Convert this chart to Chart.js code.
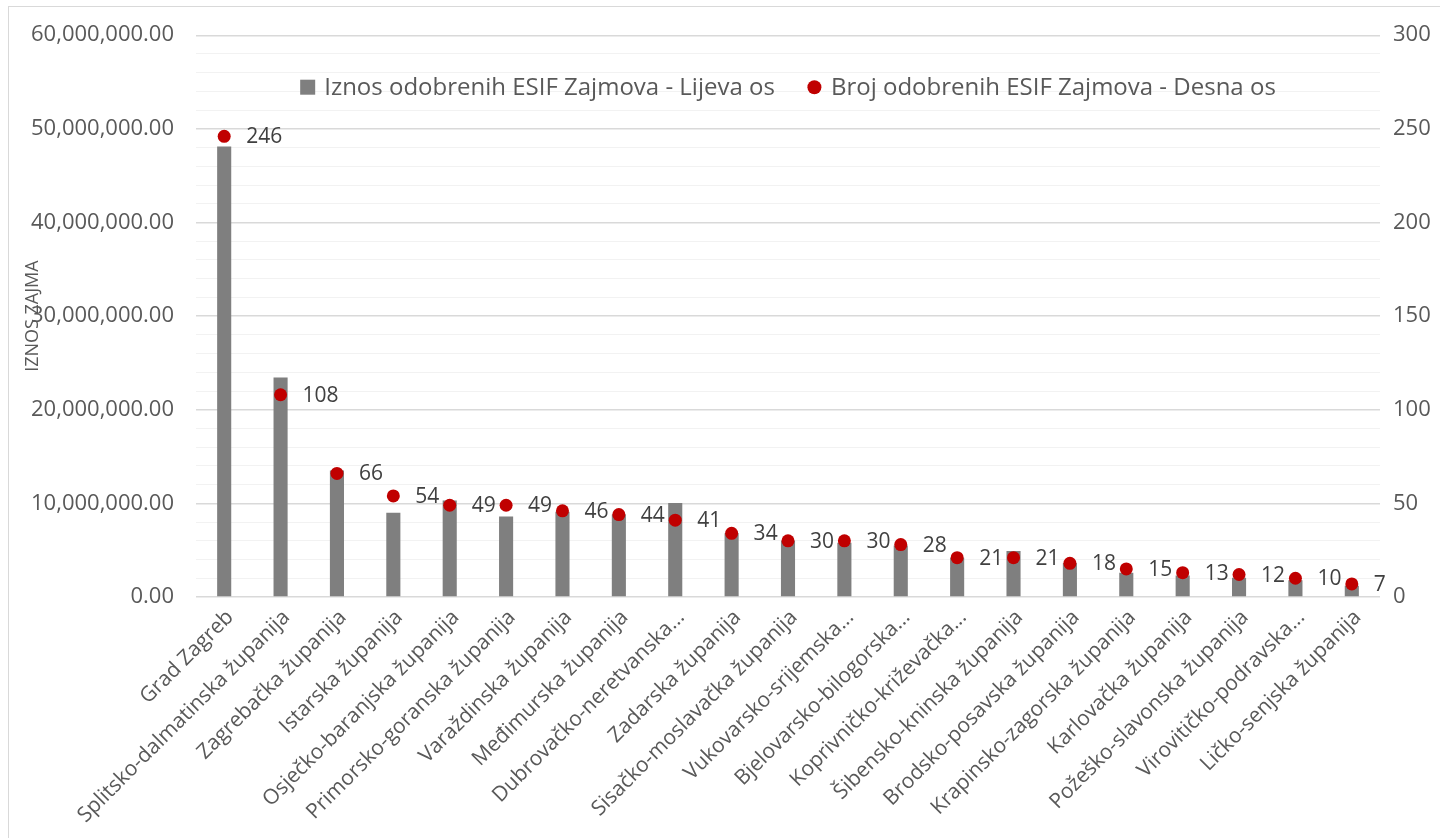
<!DOCTYPE html>
<html lang="hr">
<head>
  <meta charset="UTF-8" />
  <title>ESIF zajmovi po županijama</title>
  <script src="https://cdn.jsdelivr.net/npm/chart.js"></script>
  <style>
    html, body {
      margin: 0;
      padding: 0;
      background: #fff;
      overflow: hidden;
    }
    .wrap {
      position: relative;
      width: 1440px;
      height: 838px;
    }
    /* light frame around the chart, only left/top edges are visible */
    .frame {
      position: absolute;
      left: 8px;
      top: 6px;
      width: 1440px;
      height: 840px;
      border: 1px solid #d9d9d9;
      pointer-events: none;
    }
  </style>
</head>
<body>
  <div class="wrap">
    <canvas id="esifChart"></canvas>
    <div class="frame"></div>
  </div>

  <script>
    const categories = [
      "Grad Zagreb",
      "Splitsko-dalmatinska županija",
      "Zagrebačka županija",
      "Istarska županija",
      "Osječko-baranjska županija",
      "Primorsko-goranska županija",
      "Varaždinska županija",
      "Međimurska županija",
      "Dubrovačko-neretvanska...",
      "Zadarska županija",
      "Sisačko-moslavačka županija",
      "Vukovarsko-srijemska...",
      "Bjelovarsko-bilogorska...",
      "Koprivničko-križevačka...",
      "Šibensko-kninska županija",
      "Brodsko-posavska županija",
      "Krapinsko-zagorska županija",
      "Karlovačka županija",
      "Požeško-slavonska županija",
      "Virovitičko-podravska...",
      "Ličko-senjska županija"
    ];

    // Iznos odobrenih ESIF zajmova (lijeva os)
    const iznosZajmova = [
      48100000, 23450000, 13500000, 9000000, 10300000, 8600000, 9100000,
      8800000, 10050000, 6800000, 6000000, 5800000, 5500000, 4200000,
      4900000, 3600000, 2600000, 2300000, 2050000, 1800000, 1200000
    ];

    // Broj odobrenih ESIF zajmova (desna os)
    const brojZajmova = [
      246, 108, 66, 54, 49, 49, 46, 44, 41, 34, 30,
      30, 28, 21, 21, 18, 15, 13, 12, 10, 7
    ];

    const legendLabels = [
      "Iznos odobrenih ESIF Zajmova - Lijeva os",
      "Broj odobrenih ESIF Zajmova - Desna os"
    ];

    const leftTicksMax = 60000000;
    const rightTicksMax = 300;

    const FONT = "'Open Sans', 'Noto Sans', sans-serif";
    const BAR_COLOR = "#7f7f7f";
    const DOT_COLOR = "#c00000";
    const TEXT_COLOR = "#595959";

    // value labels to the right of each red dot
    const dotLabels = {
      id: "dotLabels",
      afterDatasetsDraw(chart) {
        const meta = chart.getDatasetMeta(1);
        const ctx = chart.ctx;
        ctx.save();
        ctx.font = "21px " + FONT;
        ctx.fillStyle = "#404040";
        ctx.textAlign = "left";
        ctx.textBaseline = "middle";
        meta.data.forEach((pt, i) => {
          ctx.fillText(String(brojZajmova[i]), pt.x + 22, pt.y + 1);
        });
        ctx.restore();
      }
    };

    // legend drawn inside the plot area, near the top
    const innerLegend = {
      id: "innerLegend",
      afterDraw(chart) {
        const ctx = chart.ctx;
        const area = chart.chartArea;
        ctx.save();
        ctx.font = "24px " + FONT;
        ctx.textBaseline = "middle";
        ctx.textAlign = "left";
        const w1 = ctx.measureText(legendLabels[0]).width;
        const w2 = ctx.measureText(legendLabels[1]).width;
        const box = 15, gap = 9, between = 32;
        const total = box + gap + w1 + between + box + gap + w2;
        let x = (area.left + area.right) / 2 - total / 2;
        const y = area.top + 52;

        ctx.fillStyle = BAR_COLOR;
        ctx.fillRect(x, y - box / 2, box, box);
        x += box + gap;
        ctx.fillStyle = TEXT_COLOR;
        ctx.fillText(legendLabels[0], x, y + 1);
        x += w1 + between;

        ctx.fillStyle = DOT_COLOR;
        ctx.beginPath();
        ctx.arc(x + box / 2, y, 7, 0, Math.PI * 2);
        ctx.fill();
        x += box + gap;
        ctx.fillStyle = TEXT_COLOR;
        ctx.fillText(legendLabels[1], x, y + 1);
        ctx.restore();
      }
    };

    const ctx = document.getElementById("esifChart").getContext("2d");

    new Chart(ctx, {
      data: {
        labels: categories,
        datasets: [
          {
            type: "bar",
            label: legendLabels[0],
            data: iznosZajmova,
            backgroundColor: BAR_COLOR,
            barPercentage: 0.25,
            categoryPercentage: 1,
            yAxisID: "y",
            order: 2
          },
          {
            type: "line",
            label: legendLabels[1],
            data: brojZajmova,
            showLine: false,
            pointRadius: 6.5,
            pointBackgroundColor: DOT_COLOR,
            pointBorderWidth: 0,
            yAxisID: "y1",
            order: 1
          }
        ]
      },
      options: {
        responsive: true,
        maintainAspectRatio: false,
        animation: false,
        layout: {
          padding: { top: 34, left: 0, right: 0, bottom: 0 }
        },
        plugins: {
          legend: { display: false },
          tooltip: { enabled: false }
        },
        scales: {
          x: {
            grid: { display: false },
            border: { display: false },
            ticks: {
              color: TEXT_COLOR,
              font: { family: FONT, size: 21 },
              minRotation: 45,
              maxRotation: 45,
              autoSkip: false,
              padding: 0,
              labelOffset: 6
            },
            afterFit(scale) {
              scale.height = 838 - 597;
            }
          },
          y: {
            position: "left",
            min: 0,
            max: leftTicksMax,
            border: { display: false },
            grid: {
              drawTicks: false,
              color: (c) => (c.tick && c.tick.value % 10000000 === 0 ? "#d9d9d9" : "#f2f2f2"),
              lineWidth: (c) => (c.tick && c.tick.value % 10000000 === 0 ? 1.4 : 1)
            },
            ticks: {
              stepSize: 2000000,
              autoSkip: false,
              padding: 22,
              color: TEXT_COLOR,
              font: { family: FONT, size: 22 },
              callback: (v) =>
                v % 10000000 === 0
                  ? Number(v).toLocaleString("en-US", { minimumFractionDigits: 2, maximumFractionDigits: 2 })
                  : ""
            },
            title: {
              display: true,
              text: "IZNOS ZAJMA",
              color: TEXT_COLOR,
              font: { family: FONT, size: 18 },
              padding: { top: 22, bottom: 0 }
            },
            afterFit(scale) {
              scale.width = 196;
            }
          },
          y1: {
            position: "right",
            min: 0,
            max: rightTicksMax,
            border: { display: false },
            grid: { display: false, drawTicks: false },
            ticks: {
              stepSize: 50,
              padding: 13,
              color: TEXT_COLOR,
              font: { family: FONT, size: 22 }
            },
            afterFit(scale) {
              scale.width = 1440 - 1380;
            }
          }
        }
      },
      plugins: [dotLabels, innerLegend]
    });
  </script>
</body>
</html>
